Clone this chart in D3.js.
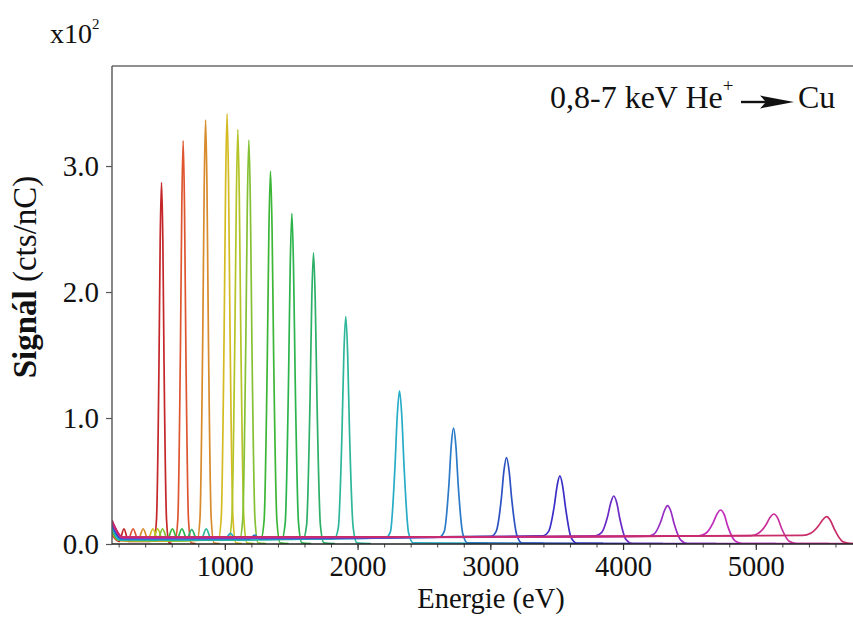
<!DOCTYPE html>
<html>
<head>
<meta charset="utf-8">
<script src="https://cdn.jsdelivr.net/npm/d3@7"></script>
<style>
  html, body { margin: 0; padding: 0; background: #fff; }
  svg { display: block; }
  text { font-family: "Liberation Serif", "Times New Roman", serif; fill: #111; }
</style>
</head>
<body>
<svg id="chart" width="853" height="619"></svg>
<script>
// Incident He+ energies (keV) for each spectrum
const incident = [0.8, 1.0, 1.2, 1.4, 1.5, 1.6, 1.8, 2.0, 2.2, 2.5, 3.0, 3.5, 4.0, 4.5, 5.0, 5.5, 6.0, 6.5, 7.0];

// Line colour of each spectrum, red (0.8 keV) through crimson (7 keV)
const colors = ["#c4262a", "#de5530", "#d88a2c", "#d4bb22", "#b4c426", "#84c034",
                "#3cb636", "#2cb44c", "#2cb068", "#2eb69a", "#26acc6", "#2a7ac8",
                "#2c52c2", "#3a2ec6", "#6a2ac4", "#962cc2", "#c22cbc", "#c8309a", "#c82c68"];

// Measured spectra: [energy (eV), signal (x10^2 cts/nC)]
const s08 = [[150,0.07],[185,0.03],[205,0.02],[240,0.12],[275,0.02],[400,0.02],[466,0.025],[485,0.19],[504,1.435],[513,2.41],[523,2.87],[533,2.41],[542,1.435],[561,0.19],[580,0.01],[600,0.004]];
const s10 = [[150,0.08],[200,0.03],[269,0.025],[309,0.12],[349,0.025],[500,0.025],[626,0.03],[646,0.2],[666,1.6],[676,2.69],[686,3.20],[696,2.69],[706,1.6],[726,0.2],[746,0.01],[780,0.004]];
const s12 = [[150,0.09],[200,0.03],[345,0.025],[385,0.12],[425,0.025],[600,0.025],[792,0.03],[813,0.21],[834,1.68],[844.5,2.83],[855,3.365],[865.5,2.83],[876,1.68],[897,0.21],[918,0.01],[960,0.004]];
const s14 = [[150,0.1],[200,0.03],[418,0.025],[458,0.12],[498,0.025],[700,0.03],[951,0.035],[973,0.21],[995,1.71],[1006,2.87],[1017,3.415],[1028,2.87],[1039,1.71],[1061,0.21],[1083,0.01],[1130,0.004]];
const s15 = [[150,0.1],[200,0.03],[454,0.025],[494,0.12],[534,0.025],[800,0.03],[1030,0.035],[1053,0.21],[1075.5,1.645],[1087,2.76],[1098,3.29],[1109,2.76],[1120.5,1.645],[1143,0.21],[1166,0.01],[1220,0.004]];
const s16 = [[150,0.11],[200,0.03],[491,0.025],[531,0.12],[571,0.025],[850,0.03],[1112,0.035],[1135,0.2],[1158,1.6],[1169.5,2.69],[1181,3.205],[1192.5,2.69],[1204,1.6],[1227,0.2],[1250,0.01],[1310,0.004]];
const s18 = [[150,0.11],[200,0.035],[565,0.03],[605,0.12],[645,0.03],[950,0.035],[1272,0.04],[1296,0.19],[1320,1.48],[1332,2.49],[1344,2.96],[1356,2.49],[1368,1.48],[1392,0.19],[1416,0.01],[1480,0.004]];
const s20 = [[150,0.12],[200,0.035],[637,0.03],[677,0.12],[717,0.03],[1050,0.035],[1430,0.04],[1455,0.17],[1480,1.31],[1492.5,2.2],[1505,2.625],[1517.5,2.2],[1530,1.31],[1555,0.17],[1580,0.01],[1650,0.004]];
const s22 = [[150,0.12],[200,0.035],[711,0.03],[751,0.115],[791,0.03],[1150,0.035],[1590,0.04],[1616,0.15],[1642,1.155],[1655,1.94],[1668,2.31],[1681,1.94],[1694,1.155],[1720,0.15],[1746,0.01],[1830,0.004]];
const s25 = [[150,0.13],[200,0.035],[820,0.03],[860,0.12],[900,0.03],[1300,0.035],[1827,0.045],[1855,0.13],[1883,0.9],[1897,1.52],[1911,1.805],[1925,1.52],[1939,0.9],[1967,0.13],[1995,0.01],[2100,0.004]];
const s30 = [[150,0.14],[210,0.035],[1000,0.035],[1042,0.085],[1085,0.035],[1700,0.04],[2214,0.05],[2248,0.1],[2282,0.62],[2299,1.02],[2316,1.215],[2333,1.02],[2350,0.62],[2384,0.09],[2418,0.01],[2980,0.006]];
const s35 = [[150,0.15],[220,0.04],[1185,0.04],[1225,0.07],[1265,0.04],[2000,0.045],[2618,0.055],[2653,0.1],[2688,0.47],[2705.5,0.78],[2723,0.92],[2740.5,0.78],[2758,0.47],[2793,0.08],[2828,0.01],[3400,0.006]];
const s40 = [[150,0.16],[220,0.045],[2000,0.05],[3005,0.06],[3044,0.1],[3083,0.36],[3102.5,0.58],[3122,0.685],[3141.5,0.58],[3161,0.36],[3200,0.07],[3239,0.008],[3850,0.005]];
const s45 = [[150,0.17],[230,0.05],[2500,0.055],[3396,0.065],[3439,0.1],[3481.5,0.3],[3503,0.46],[3524,0.54],[3545,0.46],[3566.5,0.29],[3609,0.05],[3652,0.006],[4300,0.004]];
const s50 = [[150,0.17],[230,0.05],[2800,0.055],[3792,0.065],[3838,0.09],[3884,0.22],[3907,0.325],[3930,0.381],[3953,0.325],[3976,0.2],[4022,0.035],[4068,0.004],[4700,0.003]];
const s55 = [[150,0.18],[230,0.05],[3000,0.055],[4185,0.062],[4235,0.08],[4285,0.18],[4310,0.26],[4335,0.305],[4360,0.26],[4385,0.16],[4435,0.03],[4485,0.004],[5150,0.003]];
const s60 = [[150,0.18],[230,0.05],[3300,0.055],[4569,0.065],[4624,0.085],[4679,0.17],[4706.5,0.235],[4734,0.27],[4761.5,0.235],[4789,0.14],[4844,0.025],[4899,0.004],[5550,0.003]];
const s65 = [[150,0.18],[230,0.055],[3600,0.058],[4963,0.066],[5020,0.085],[5078,0.155],[5107,0.21],[5136,0.238],[5165,0.205],[5194,0.125],[5251,0.022],[5309,0.004],[5750,0.003]];
const s70 = [[150,0.19],[230,0.055],[4000,0.06],[5353,0.068],[5413,0.085],[5473,0.145],[5503,0.19],[5533,0.217],[5563,0.185],[5593,0.115],[5653,0.02],[5713,0.004],[5750,0.003]];

const spectra = [s08, s10, s12, s14, s15, s16, s18, s20, s22, s25, s30, s35, s40, s45, s50, s55, s60, s65, s70];

// Axis ticks
const xMajorTicks = [1000, 2000, 3000, 4000, 5000];
const xMinorTicks = d3.range(200, 5800, 200);
const yTicks = [0, 1, 2, 3];

const svg = d3.select("#chart");
const mLeft = 112, mTop = 66, mRight = 853, mBottom = 544;

const x = d3.scaleLinear().domain([150, 5730]).range([mLeft, 852.7]);
const y = d3.scaleLinear().domain([0, 3.794]).range([mBottom, mTop]);

svg.append("defs").append("clipPath").attr("id", "plot")
  .append("rect").attr("x", mLeft).attr("y", mTop - 2).attr("width", mRight - mLeft).attr("height", mBottom - mTop + 2);

// spectra
const line = d3.line().x(d => x(d[0])).y(d => y(d[1])).curve(d3.curveMonotoneX);
const g = svg.append("g").attr("clip-path", "url(#plot)");
spectra.forEach((s, i) => {
  g.append("path").datum(s)
    .attr("d", line)
    .attr("fill", "none")
    .attr("stroke", colors[i])
    .attr("stroke-width", 1.7)
    .attr("stroke-linejoin", "round")
    .attr("data-kev", incident[i]);
});

// frame: top border
svg.append("line").attr("x1", mLeft).attr("x2", mRight).attr("y1", mTop).attr("y2", mTop)
  .attr("stroke", "#6a6a6a").attr("stroke-width", 1.4);

// y axis
const yAxis = d3.axisLeft(y).tickValues(yTicks).tickFormat(d3.format(".1f")).tickSize(6).tickPadding(7);
const gy = svg.append("g").attr("transform", `translate(${mLeft},0)`).call(yAxis);
gy.select(".domain").attr("stroke", "#555").attr("stroke-width", 1.4).attr("d", `M0,${mTop}V${mBottom}`);
gy.selectAll(".tick line").attr("stroke", "#555").attr("stroke-width", 1.2);
gy.selectAll(".tick text").attr("font-size", 29).attr("font-family", "Liberation Serif").attr("fill", "#111");

// x axis
const xAxisMinor = d3.axisBottom(x).tickValues(xMinorTicks).tickSize(3.5).tickFormat("");
const gxm = svg.append("g").attr("transform", `translate(0,${mBottom})`).call(xAxisMinor);
gxm.select(".domain").remove();
gxm.selectAll(".tick line").attr("stroke", "#444").attr("stroke-width", 1);

const xAxis = d3.axisBottom(x).tickValues(xMajorTicks).tickFormat(d3.format("d")).tickSize(6).tickPadding(6);
const gx = svg.append("g").attr("transform", `translate(0,${mBottom})`).call(xAxis);
gx.select(".domain").attr("stroke", "#222").attr("stroke-width", 1.6).attr("d", `M${mLeft},0H${mRight}`);
gx.selectAll(".tick line").attr("stroke", "#333").attr("stroke-width", 1.2);
gx.selectAll(".tick text").attr("font-size", 28.5).attr("font-family", "Liberation Serif").attr("fill", "#111");

// axis titles
svg.append("text").attr("x", 491).attr("y", 608).attr("text-anchor", "middle")
  .attr("font-size", 28.5).text("Energie (eV)");

const yl = svg.append("text").attr("transform", "translate(36,277) rotate(-90)")
  .attr("text-anchor", "middle").attr("font-size", 33);
yl.append("tspan").attr("font-weight", "bold").text("Signál");
yl.append("tspan").text(" (cts/nC)");

// axis multiplier
const mult = svg.append("text").attr("x", 50).attr("y", 43).attr("font-size", 28);
mult.append("tspan").text("x10");
mult.append("tspan").attr("font-size", 15).attr("dy", -14).text("2");

// annotation
const ann = svg.append("text").attr("x", 550).attr("y", 108).attr("font-size", 32);
ann.append("tspan").text("0,8-7 keV He");
ann.append("tspan").attr("font-size", 19).attr("dy", -16).text("+");
svg.append("line").attr("x1", 741).attr("x2", 768).attr("y1", 102).attr("y2", 102)
  .attr("stroke", "#111").attr("stroke-width", 2.4);
svg.append("path").attr("d", "M760,95.5 L794,102 L760,108.5 L766,102 Z").attr("fill", "#111");
svg.append("text").attr("x", 798).attr("y", 108).attr("font-size", 32).text("Cu");
</script>
</body>
</html>
